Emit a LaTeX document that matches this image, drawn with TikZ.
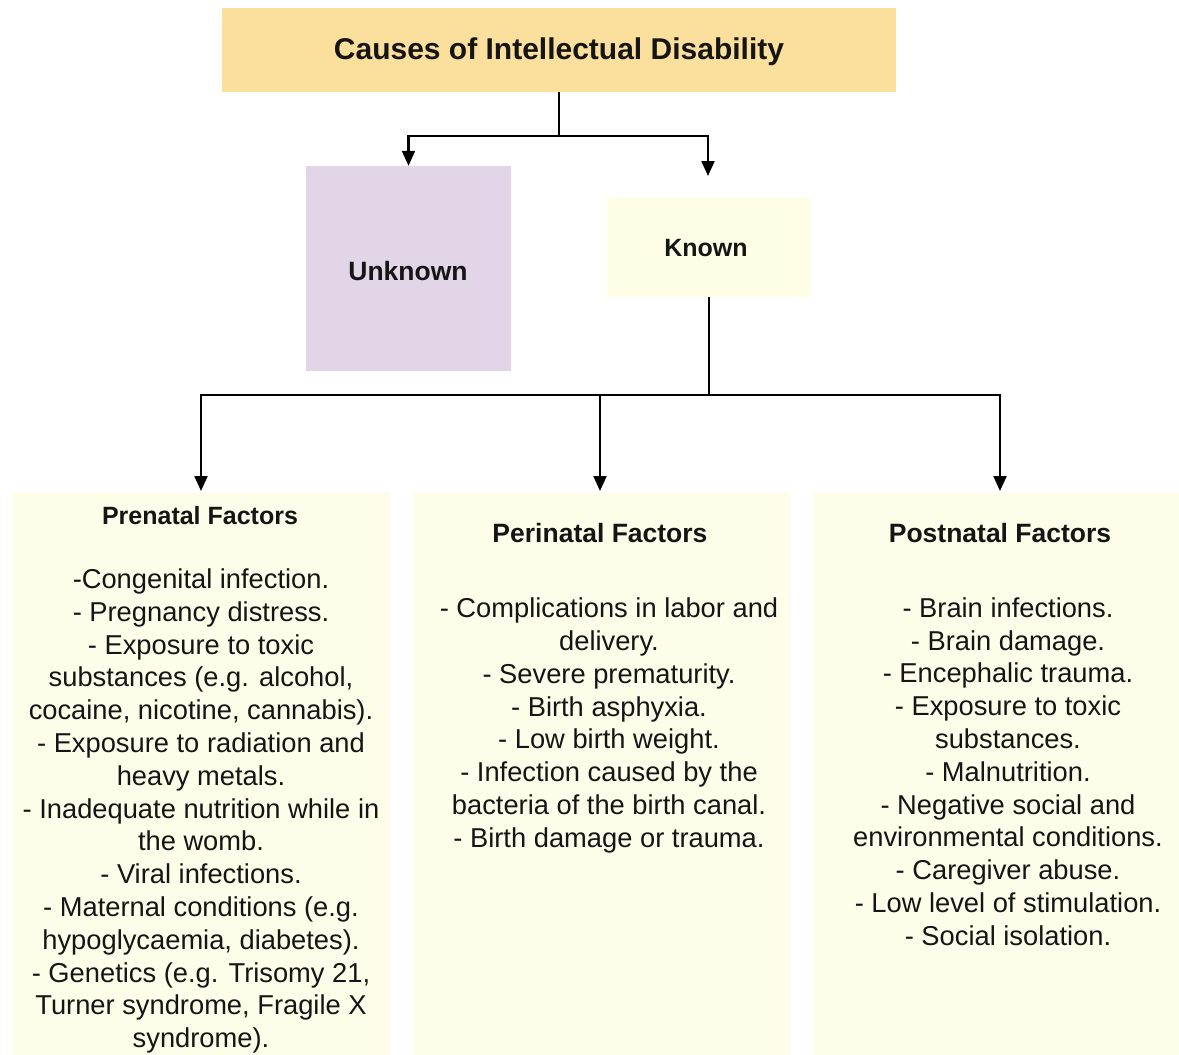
\documentclass[tikz,border=0pt]{standalone}
\usepackage{fontspec}
\setmainfont{Liberation Sans}
\usetikzlibrary{arrows.meta}
\definecolor{titlefill}{HTML}{FBDF9C}
\definecolor{unkfill}{HTML}{E1D5E7}
\definecolor{knownfill}{HTML}{FEFEE6}
\definecolor{factfill}{HTML}{FEFDE9}
\definecolor{txt}{HTML}{151515}
\begin{document}
\begin{tikzpicture}[x=1pt,y=-1pt,
  box/.style={draw=none, inner sep=0pt},
  conn/.style={line width=2.2pt, -{Triangle[length=15pt,width=13pt]}},
  plain/.style={line width=2.2pt},
  bodytext/.style={align=center, inner sep=0pt, text=txt, font=\fontsize{27.3}{32.8}\selectfont},
  headtext/.style={inner sep=0pt, text=txt, font=\bfseries\fontsize{26.5}{32}\selectfont}]
\useasboundingbox (0,0) rectangle (1179,1055);
\fill[white] (0,0) rectangle (1179,1055);

% boxes
\node[box, fill=titlefill, minimum width=674pt, minimum height=84pt] (title) at (559,50) {};
\node[box, fill=unkfill, minimum width=205pt, minimum height=205pt] (unknown) at (408.5,268.5) {};
\node[box, fill=knownfill, minimum width=204pt, minimum height=99pt] (known) at (709,247.5) {};

\node[box, fill=factfill, minimum width=378pt, minimum height=563pt] (pre) at (201,773.5) {};
\node[box, fill=factfill, minimum width=378pt, minimum height=563pt] (peri) at (602,773.5) {};
\node[box, fill=factfill, minimum width=366pt, minimum height=563pt] (post) at (996,773.5) {};

% box labels
\node[inner sep=0pt, text=txt, font=\bfseries\fontsize{30}{36}\selectfont] (titlet) at (559,52) {Causes of Intellectual Disability};
\node[inner sep=0pt, text=txt, font=\bfseries\fontsize{26.5}{32}\selectfont] (unknownt) at (408,271) {Unknown};
\node[inner sep=0pt, text=txt, font=\bfseries\fontsize{25}{30}\selectfont] (knownt) at (706,248) {Known};

\node[headtext, font=\bfseries\fontsize{25}{30}\selectfont] (preh) at (200,516) {Prenatal Factors};
\node[headtext] (perih) at (600,533) {Perinatal Factors};
\node[headtext] (posth) at (1000,533) {Postnatal Factors};

\node[bodytext] (pret) at (201,811) {-Congenital infection.\\
- Pregnancy distress.\\
- Exposure to toxic\\
substances (e.g. alcohol,\\
cocaine, nicotine, cannabis).\\
- Exposure to radiation and\\
heavy metals.\\
- Inadequate nutrition while in\\
the womb.\\
- Viral infections.\\
- Maternal conditions (e.g.\\
hypoglycaemia, diabetes).\\
- Genetics (e.g. Trisomy 21,\\
Turner syndrome, Fragile X\\
syndrome).};

\node[bodytext] (perit) at (609,725.5) {- Complications in labor and\\
delivery.\\
- Severe prematurity.\\
- Birth asphyxia.\\
- Low birth weight.\\
- Infection caused by the\\
bacteria of the birth canal.\\
- Birth damage or trauma.};

\node[bodytext] (postt) at (1008,771.5) {- Brain infections.\\
- Brain damage.\\
- Encephalic trauma.\\
- Exposure to toxic\\
substances.\\
- Malnutrition.\\
- Negative social and\\
environmental conditions.\\
- Caregiver abuse.\\
- Low level of stimulation.\\
- Social isolation.};

% connectors
\coordinate (j1) at (559,136);
\coordinate (kin) at (708,176);
\draw[plain] (title.south) -- (j1);
\draw[conn] (j1) -| (unknown.north);
\draw[conn] (j1) -| (kin);

\coordinate (j2) at (709,395);
\coordinate (periin) at (600,491);
\coordinate (postin) at (1000,491);
\coordinate (prein) at (201,491);
\draw[plain] (known.south) -- (j2);
\draw[conn] (j2) -| (prein);
\draw[conn] (j2) -| (periin);
\draw[conn] (j2) -| (postin);
\end{tikzpicture}
\end{document}
